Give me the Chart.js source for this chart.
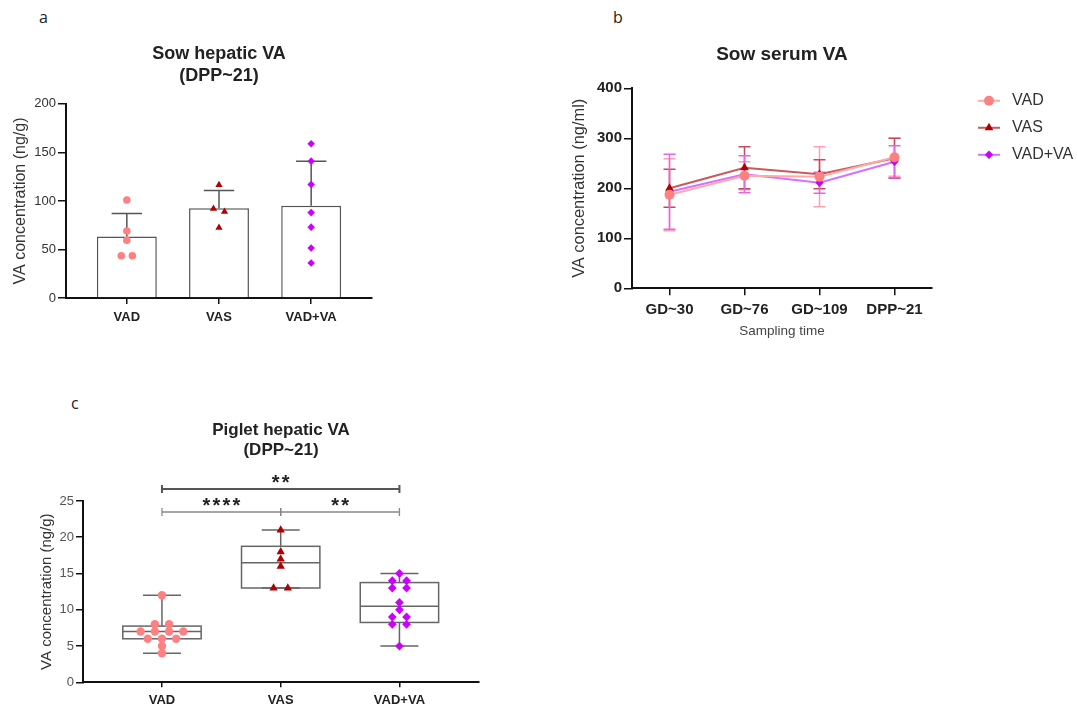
<!DOCTYPE html>
<html>
<head>
<meta charset="utf-8">
<title>Sow and piglet VA</title>
<script src="https://cdn.jsdelivr.net/npm/chart.js@4.4.1/dist/chart.umd.min.js"></script>
<style>
  html, body { margin: 0; padding: 0; background: #fff; }
  #page { position: relative; width: 1077px; height: 707px; overflow: hidden; }
  canvas { position: absolute; }
  .tag { position: absolute; font: 16px/1 "Open Sans", sans-serif; color: #222; }
</style>
</head>
<body>
<div id="page">
  <div class="tag" style="left:39px;top:9px">a</div>
  <div class="tag" style="left:613px;top:9px">b</div>
  <div class="tag" style="left:71px;top:395px">c</div>
  <canvas id="hepatic" width="400" height="340" style="left:0;top:0"></canvas>
  <canvas id="serum" width="517" height="345" style="left:560px;top:0"></canvas>
  <canvas id="piglet" width="500" height="327" style="left:0;top:380px"></canvas>
</div>
<script>
// groups
var groups = ['VAD', 'VAS', 'VAD+VA'];

// a: sow hepatic VA, DPP~21 (ng/g), one value per sow
var hepVAD = [101, 69, 59.5, 43.5, 43.5];
var hepVAS = [116.5, 92, 89, 72.5];
var hepVADVA = [159, 141, 117, 88, 73, 51.5, 36];

// b: sow serum VA (ng/ml), mean and SD per sampling time
var times = ['GD~30', 'GD~76', 'GD~109', 'DPP~21'];
var serumVAD = [187, 225, 223, 262];
var serumVADsd = [72, 28, 60, 38];
var serumVAS = [200, 241, 228, 260];
var serumVASsd = [38, 42, 29, 40];
var serumVADVA = [193, 228, 211, 253];
var serumVADVAsd = [75, 37, 21, 32];

// c: piglet hepatic VA, DPP~21 (ng/g)
var pigVAD = [12, 8, 8, 7, 7, 7, 7, 6, 6, 6, 5, 4];
var pigVAS = [21, 18, 17, 16, 13, 13];
var pigVADVA = [15, 14, 14, 13, 13, 11, 10, 9, 9, 8, 8, 5];
var sigPairs = [[0, 2, '**'], [0, 1, '****'], [1, 2, '**']];

Chart.defaults.font.family = '"Liberation Sans", Arial, sans-serif';
Chart.defaults.color = '#333';
Chart.defaults.animation = false;
Chart.defaults.responsive = false;
Chart.defaults.events = [];
Chart.defaults.plugins.legend.display = false;
Chart.defaults.plugins.tooltip.enabled = false;

var markers = [
    { color: '#ff8080', style: 'circle' },
    { color: '#b00000', style: 'triangle' },
    { color: '#cc00ff', style: 'rectRot' }
];

function mean(v) {
    return v.reduce((a, b) => a + b, 0) / v.length;
}
function sd(v) {
    const m = mean(v);
    return Math.sqrt(v.reduce((a, b) => a + (b - m) * (b - m), 0) / (v.length - 1));
}
// quartiles the way GraphPad does them
function quart(v, p) {
    const s = [...v].sort((a, b) => a - b);
    const h = (s.length + 1) * p - 1;
    const lo = Math.max(0, Math.floor(h));
    const hi = Math.min(s.length - 1, lo + 1);
    return s[lo] + (h - Math.floor(h)) * (s[hi] - s[lo]);
}
// points with (nearly) the same value sit side by side
function columnPoints(values, i, tol) {
    const order = values.map((_, k) => k).sort((a, b) => values[b] - values[a]);
    const off = values.map(() => 0);
    let run = [];
    const flush = () => run.forEach((j, k) => { off[j] = (k - (run.length - 1) / 2) * 0.12; });
    order.forEach(j => {
        if (run.length && values[run[run.length - 1]] - values[j] >= tol) { flush(); run = []; }
        run.push(j);
    });
    flush();
    return values.map((v, k) => ({ x: i + off[k], y: v }));
}

function axisLine() {
    return { color: '#111', width: 2 };
}
function tickMarks(len) {
    return { drawOnChartArea: false, offset: false, tickLength: len, color: '#111', lineWidth: 1.5 };
}

// ---------- a ----------
var hepGroups = [hepVAD, hepVAS, hepVADVA];

var hepErr = {
    id: 'hepErr',
    afterDatasetDraw(chart, args) {
        if (args.index !== 0) return;
        const { ctx, scales: { x, y } } = chart;
        ctx.save();
        ctx.strokeStyle = '#555';
        ctx.lineWidth = 1.5;
        hepGroups.forEach((v, i) => {
            const m = mean(v), s = sd(v);
            const xc = x.getPixelForValue(i);
            const hw = x.getPixelForValue(i + 0.165) - xc;
            const yt = y.getPixelForValue(m + s);
            ctx.beginPath();
            ctx.moveTo(xc, y.getPixelForValue(m));
            ctx.lineTo(xc, yt);
            ctx.moveTo(xc - hw, yt);
            ctx.lineTo(xc + hw, yt);
            ctx.stroke();
        });
        ctx.restore();
    }
};

new Chart(document.getElementById('hepatic'), {
    type: 'bar',
    data: {
        datasets: [{
            type: 'bar',
            data: hepGroups.map((v, i) => ({ x: i, y: mean(v) })),
            backgroundColor: '#fff',
            borderColor: '#555',
            borderWidth: 1.5,
            barPercentage: 0.65,
            categoryPercentage: 1,
            order: 2
        }].concat(hepGroups.map((v, i) => ({
            type: 'scatter',
            data: columnPoints(v, i, 5),
            pointStyle: markers[i].style,
            pointRadius: i === 1 ? 4.2 : 3.8,
            backgroundColor: markers[i].color,
            borderWidth: 0,
            order: 1
        })))
    },
    options: {
        layout: { padding: { left: 0, right: 28, top: 0, bottom: 0 } },
        scales: {
            x: {
                type: 'linear', min: -0.66, max: 2.66, offset: false,
                afterBuildTicks: s => { s.ticks = groups.map((_, i) => ({ value: i })); },
                afterFit: s => { s.height = 42; },
                ticks: { callback: v => groups[v], autoSkip: false, maxRotation: 0, padding: 6, color: '#222', font: { size: 13, weight: 'bold' } },
                grid: tickMarks(6),
                border: axisLine()
            },
            y: {
                min: 0, max: 200,
                afterFit: s => { s.width = 66; },
                ticks: { stepSize: 50, padding: 2, color: '#333', font: { size: 13 } },
                grid: tickMarks(8),
                border: axisLine(),
                title: { display: true, text: 'VA concentration (ng/g)', color: '#333', font: { size: 16 }, padding: { top: 10.5, bottom: 0 } }
            }
        },
        plugins: {
            title: {
                display: true, fullSize: false,
                text: ['Sow hepatic VA', '(DPP~21)'],
                color: '#222',
                font: { size: 18, weight: 'bold', lineHeight: 1.22 },
                padding: { top: 43, bottom: 17 }
            }
        }
    },
    plugins: [hepErr]
});

// ---------- b ----------
var serumMeans = [serumVAD, serumVAS, serumVADVA];
var serumSDs = [serumVADsd, serumVASsd, serumVADVAsd];
var lineColors = ['#ffa8a8', '#c85a5a', '#d870ff'];
var errColors = ['#ffa0b8', '#c8485e', '#e068e8'];

var serumErr = {
    id: 'serumErr',
    beforeDatasetsDraw(chart) {
        const { ctx, scales: { x, y } } = chart;
        ctx.save();
        ctx.lineWidth = 1.5;
        serumMeans.forEach((vals, i) => {
            ctx.strokeStyle = errColors[i];
            vals.forEach((m, j) => {
                const s = serumSDs[i][j];
                const xc = x.getPixelForValue(j);
                const hw = x.getPixelForValue(j + 0.08) - xc;
                const yt = y.getPixelForValue(m + s), yb = y.getPixelForValue(m - s);
                ctx.beginPath();
                ctx.moveTo(xc, yt); ctx.lineTo(xc, yb);
                ctx.moveTo(xc - hw, yt); ctx.lineTo(xc + hw, yt);
                ctx.moveTo(xc - hw, yb); ctx.lineTo(xc + hw, yb);
                ctx.stroke();
            });
        });
        ctx.restore();
    }
};

var serumLegend = {
    id: 'serumLegend',
    afterDraw(chart) {
        const { ctx, chartArea } = chart;
        ctx.save();
        chart.data.datasets.forEach((ds, i) => {
            const y = chartArea.top + 12.5 + i * 27;
            const x0 = chartArea.right + 46;
            ctx.strokeStyle = ds.borderColor;
            ctx.lineWidth = 2;
            ctx.beginPath(); ctx.moveTo(x0, y); ctx.lineTo(x0 + 22, y); ctx.stroke();
            ctx.fillStyle = ds.pointBackgroundColor;
            Chart.helpers.drawPoint(ctx, { pointStyle: ds.pointStyle, radius: ds.pointRadius, rotation: 0, borderWidth: 0 }, x0 + 11, y);
            ctx.fillStyle = '#333';
            ctx.font = '16px "Liberation Sans", Arial, sans-serif';
            ctx.textBaseline = 'middle';
            ctx.fillText(ds.label, x0 + 34, y);
        });
        ctx.restore();
    }
};

new Chart(document.getElementById('serum'), {
    type: 'line',
    data: {
        labels: times,
        datasets: serumMeans.map((vals, i) => ({
            label: groups[i],
            data: vals,
            borderColor: lineColors[i],
            borderWidth: 2,
            tension: 0,
            pointStyle: markers[i].style,
            pointRadius: [5, 5, 4.2][i],
            pointBackgroundColor: markers[i].color,
            pointBorderWidth: 0,
            order: i + 1
        }))
    },
    options: {
        layout: { padding: { left: 0, right: 145, top: 0, bottom: 0 } },
        scales: {
            x: {
                offset: true,
                afterFit: s => { s.height = 56.7; },
                ticks: { padding: 6, color: '#222', font: { size: 15, weight: 'bold' } },
                grid: tickMarks(7),
                border: axisLine(),
                title: { display: true, text: 'Sampling time', color: '#444', font: { size: 13.5 }, padding: { top: 0, bottom: 5.5 } }
            },
            y: {
                min: 0, max: 400,
                afterFit: s => { s.width = 72; },
                ticks: { stepSize: 100, padding: 2, color: '#222', font: { size: 15, weight: 'bold' } },
                grid: tickMarks(8),
                border: axisLine(),
                title: { display: true, text: 'VA concentration (ng/ml)', color: '#333', font: { size: 16.4 }, padding: { top: 10, bottom: 0 } }
            }
        },
        plugins: {
            title: {
                display: true, fullSize: false,
                text: 'Sow serum VA',
                color: '#222',
                font: { size: 19, weight: 'bold', lineHeight: 1.22 },
                padding: { top: 43.4, bottom: 21.7 }
            }
        }
    },
    plugins: [serumErr, serumLegend]
});

// ---------- c ----------
var pigGroups = [pigVAD, pigVAS, pigVADVA];

var pigBoxes = {
    id: 'pigBoxes',
    beforeDatasetsDraw(chart) {
        const { ctx, scales: { x, y } } = chart;
        ctx.save();
        ctx.strokeStyle = '#666';
        ctx.lineWidth = 1.5;
        pigGroups.forEach((v, i) => {
            const q1 = y.getPixelForValue(quart(v, 0.25));
            const md = y.getPixelForValue(quart(v, 0.5));
            const q3 = y.getPixelForValue(quart(v, 0.75));
            const lo = y.getPixelForValue(Math.min(...v));
            const hi = y.getPixelForValue(Math.max(...v));
            const xc = x.getPixelForValue(i);
            const bw = x.getPixelForValue(i + 0.33) - xc;
            const cw = x.getPixelForValue(i + 0.16) - xc;
            ctx.strokeRect(xc - bw, q3, 2 * bw, q1 - q3);
            ctx.beginPath();
            ctx.moveTo(xc - bw, md); ctx.lineTo(xc + bw, md);
            ctx.moveTo(xc, q3); ctx.lineTo(xc, hi);
            ctx.moveTo(xc - cw, hi); ctx.lineTo(xc + cw, hi);
            ctx.moveTo(xc, q1); ctx.lineTo(xc, lo);
            ctx.moveTo(xc - cw, lo); ctx.lineTo(xc + cw, lo);
            ctx.stroke();
        });
        ctx.restore();
    }
};

var pigBrackets = {
    id: 'pigBrackets',
    afterDraw(chart) {
        const { ctx, chartArea, scales: { x } } = chart;
        // stack the comparisons: shortest ones on the lowest row
        const rows = [];
        const placed = [...sigPairs].sort((a, b) => (a[1] - a[0]) - (b[1] - b[0])).map(p => {
            let r = 0;
            while ((rows[r] || []).some(q => p[0] < q[1] && q[0] < p[1])) r++;
            (rows[r] = rows[r] || []).push(p);
            return { p, r };
        });
        ctx.save();
        placed.forEach(({ p, r }) => {
            const y = chartArea.top + 11 - r * 23;
            const x1 = x.getPixelForValue(p[0]), x2 = x.getPixelForValue(p[1]);
            ctx.strokeStyle = r ? '#555' : '#888';
            ctx.lineWidth = r ? 2 : 1.3;
            ctx.beginPath();
            ctx.moveTo(x1, y); ctx.lineTo(x2, y);
            ctx.moveTo(x1, y - 4); ctx.lineTo(x1, y + 4);
            ctx.moveTo(x2, y - 4); ctx.lineTo(x2, y + 4);
            ctx.stroke();
            ctx.fillStyle = '#222';
            ctx.font = 'bold 20px "Liberation Sans", Arial, sans-serif';
            ctx.letterSpacing = '2.2px';
            ctx.textAlign = 'center';
            ctx.textBaseline = 'alphabetic';
            ctx.fillText(p[2], (x1 + x2) / 2 + 1.1, y + 0.5);
        });
        ctx.restore();
    }
};

new Chart(document.getElementById('piglet'), {
    type: 'scatter',
    data: {
        datasets: pigGroups.map((v, i) => ({
            data: columnPoints(v, i, 0.5),
            pointStyle: markers[i].style,
            pointRadius: [4.2, 4.8, 4.4][i],
            backgroundColor: markers[i].color,
            borderWidth: 0
        }))
    },
    options: {
        layout: { padding: { left: 0, right: 21, top: 0, bottom: 0 } },
        scales: {
            x: {
                type: 'linear', min: -0.665, max: 2.67,
                afterBuildTicks: s => { s.ticks = groups.map((_, i) => ({ value: i })); },
                afterFit: s => { s.height = 24.7; },
                ticks: { callback: v => groups[v], autoSkip: false, maxRotation: 0, padding: 5, color: '#222', font: { size: 13, weight: 'bold' } },
                grid: tickMarks(5),
                border: axisLine()
            },
            y: {
                min: 0, max: 25,
                afterFit: s => { s.width = 83; },
                ticks: { stepSize: 5, padding: 2, color: '#555', font: { size: 13 } },
                grid: tickMarks(7),
                border: axisLine(),
                title: { display: true, text: 'VA concentration (ng/g)', color: '#333', font: { size: 15 }, padding: { top: 38, bottom: 0 } }
            }
        },
        plugins: {
            title: {
                display: true, fullSize: false,
                text: ['Piglet hepatic VA', '(DPP~21)'],
                color: '#222',
                font: { size: 17, weight: 'bold', lineHeight: 1.22 },
                padding: { top: 39.6, bottom: 39.9 }
            }
        }
    },
    plugins: [pigBoxes, pigBrackets]
});
</script>
</body>
</html>
